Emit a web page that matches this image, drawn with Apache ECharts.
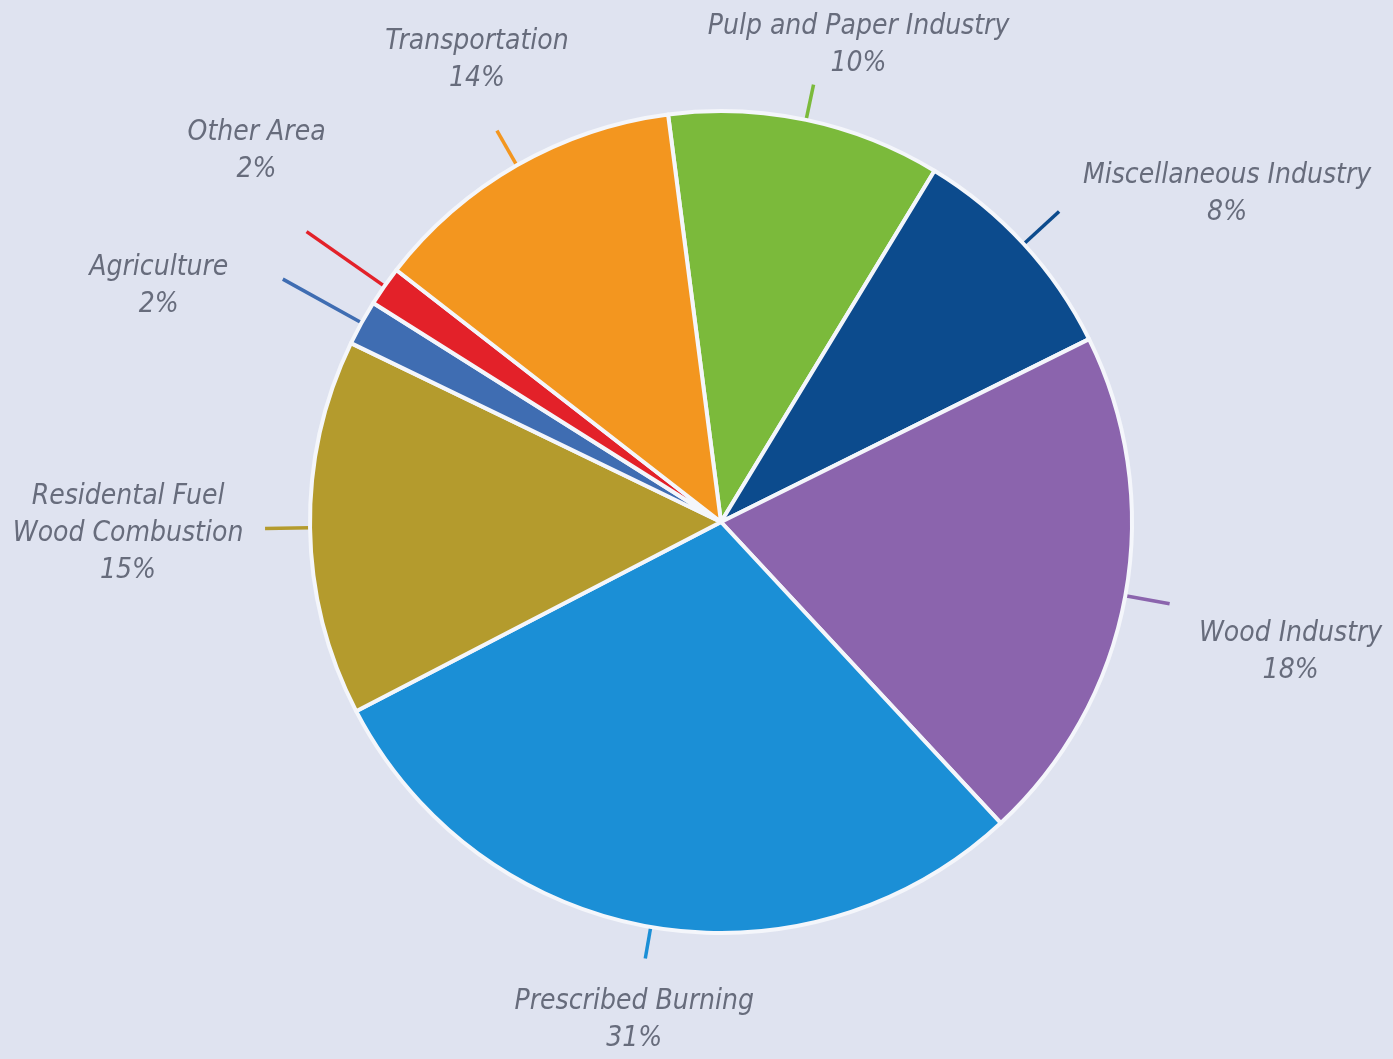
<!DOCTYPE html>
<html>
<head>
<meta charset="utf-8">
<script src="https://cdn.jsdelivr.net/npm/echarts@6/dist/echarts.min.js"></script>
<style>
html,body{margin:0;padding:0;background:#dfe3f0;}
#chart{width:1393px;height:1059px;}
</style>
</head>
<body>
<div id="chart"></div>
<script>
// Categories (clockwise from just left of 12 o'clock)
var categories = ['Pulp and Paper Industry', 'Miscellaneous Industry', 'Wood Industry', 'Prescribed Burning',
  'Residental Fuel\nWood Combustion', 'Agriculture', 'Other Area', 'Transportation'];
// Slice sizes as drawn in the picture (share of the circle, %)
var sliceValues = [10.75, 8.97, 20.42, 29.31, 14.78, 1.78, 1.56, 12.44];
// Percent labels printed in the picture
var percentLabels = [10, 8, 18, 31, 15, 2, 2, 14];

// Styling (not data)
var colors = ['#7bba3b', '#0c4b8d', '#8b64ad', '#1b8fd6', '#b49b2d', '#3f6db2', '#e32129', '#f3961f'];
var lineLengths = [36, 48, 45, 32, 45, 90, 95, 40];
var labelOffsets = [[45, -39], [168, -17], [121, 48], [-11, 62], [-137, 5], [-124, 7], [-50, -80], [-20, -70]];

var data = categories.map(function (c, i) {
  return {
    name: c,
    value: sliceValues[i],
    itemStyle: { color: colors[i] },
    labelLine: { length: lineLengths[i], length2: 0 }
  };
});

var chart = echarts.init(document.getElementById('chart'));
chart.setOption({
  backgroundColor: '#dfe3f0',
  animation: false,
  series: [{
    type: 'pie',
    center: [721, 522],
    radius: 411,
    startAngle: 97.4,
    clockwise: true,
    avoidLabelOverlap: false,
    data: data,
    itemStyle: { borderColor: '#f4f6fb', borderWidth: 4 },
    emphasis: { disabled: true },
    label: {
      show: true,
      position: 'outside',
      formatter: function (p) { return p.name + '\n' + percentLabels[p.dataIndex] + '%'; },
      fontFamily: '"Liberation Sans Narrow", "DejaVu Sans Condensed", "Roboto", sans-serif',
      fontStyle: 'italic',
      fontSize: 28,
      lineHeight: 37,
      color: '#676c7c',
      distanceToLabelLine: 0
    },
    labelLine: { show: true, smooth: false, lineStyle: { width: 3.5 } },
    labelLayout: function (params) {
      var pts = params.labelLinePoints;
      var end = pts[pts.length - 1];
      var off = labelOffsets[params.dataIndex];
      return {
        x: end[0] + off[0],
        y: end[1] + off[1],
        align: 'center',
        verticalAlign: 'middle',
        labelLinePoints: pts
      };
    }
  }]
});
</script>
</body>
</html>
